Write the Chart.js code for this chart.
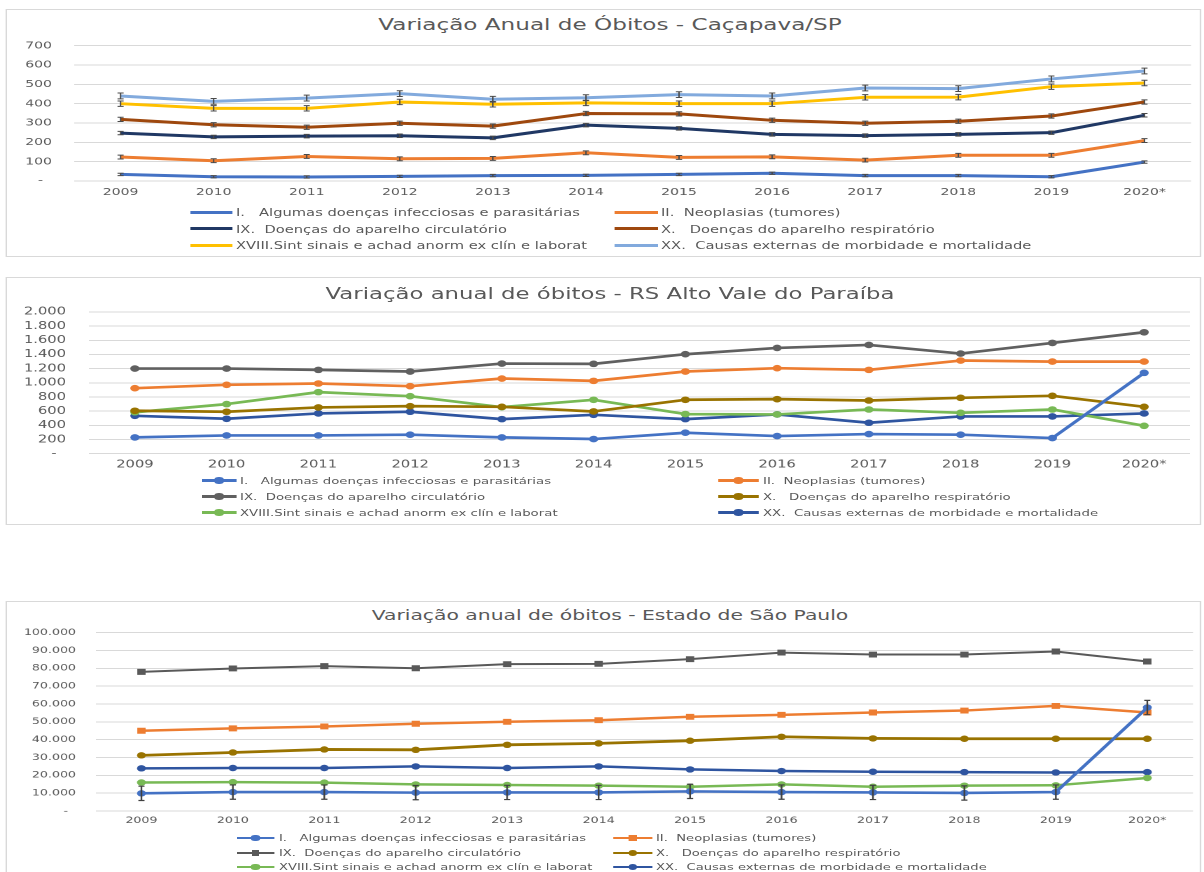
<!DOCTYPE html>
<html><head><meta charset="utf-8">
<script src="https://cdn.jsdelivr.net/npm/chart.js@4.4.1/dist/chart.umd.min.js"></script>
<style>
html,body{margin:0;padding:0;background:#fff;width:1204px;height:872px;overflow:hidden;}
#stage{position:absolute;left:0;top:0;width:860px;height:872px;transform:scaleX(1.4);transform-origin:0 0;font-family:"DejaVu Sans",sans-serif;color:#595959;}
.box{position:absolute;border:1px solid #d9d9d9;box-sizing:border-box;background:#fff;}
.title{position:absolute;white-space:nowrap;transform:translateX(-50%);line-height:20px;height:20px;}
canvas.c{position:absolute;left:0;}
.lt{position:absolute;white-space:pre;line-height:14px;height:14px;}
.ls{position:absolute;}
</style></head><body><div id="stage"></div>
<script>
// ---------- data ----------
const years = ['2009','2010','2011','2012','2013','2014','2015','2016','2017','2018','2019','2020*'];
const causes = [
  'I.   Algumas doenças infecciosas e parasitárias',
  'II.  Neoplasias (tumores)',
  'IX.  Doenças do aparelho circulatório',
  'X.   Doenças do aparelho respiratório',
  'XVIII.Sint sinais e achad anorm ex clín e laborat',
  'XX.  Causas externas de morbidade e mortalidade'
];
const titles = [
  'Variação Anual de Óbitos - Caçapava/SP',
  'Variação anual de óbitos - RS Alto Vale do Paraíba',
  'Variação anual de óbitos - Estado de São Paulo'
];

// Caçapava/SP
const cacI     = [34, 22, 21, 24, 28, 29, 34, 40, 28, 28, 22, 98];
const cacII    = [124, 105, 127, 115, 117, 146, 122, 125, 108, 133, 133, 209];
const cacIX    = [248, 228, 232, 234, 223, 289, 272, 241, 235, 241, 250, 340];
const cacX     = [319, 291, 278, 299, 284, 349, 347, 314, 299, 309, 336, 409];
const cacXVIII = [400, 376, 376, 409, 397, 404, 400, 400, 433, 434, 488, 507];
const cacXX    = [440, 412, 429, 452, 423, 431, 447, 440, 481, 478, 528, 569];
const cacErr   = [6, 10, 9, 11, 14, 15];

// RS Alto Vale do Paraíba
const rsI     = [230, 258, 258, 268, 230, 207, 296, 249, 277, 268, 221, 1141];
const rsII    = [925, 972, 991, 953, 1061, 1028, 1160, 1207, 1183, 1315, 1300, 1300];
const rsIX    = [1202, 1202, 1183, 1160, 1272, 1268, 1404, 1493, 1535, 1413, 1563, 1714];
const rsX     = [606, 592, 653, 671, 662, 596, 761, 770, 751, 789, 817, 662];
const rsXVIII = [585, 700, 869, 812, 657, 761, 559, 554, 624, 577, 624, 394];
const rsXX    = [535, 493, 568, 592, 488, 549, 488, 554, 437, 526, 526, 568];

// Estado de São Paulo
const spI     = [9900, 10600, 10600, 10300, 10400, 10400, 11000, 10600, 10400, 10100, 10600, 58000];
const spII    = [45000, 46300, 47400, 48900, 50000, 50900, 52800, 53900, 55200, 56300, 58900, 55200];
const spIX    = [78000, 79900, 81200, 80000, 82300, 82500, 85100, 88800, 87700, 87700, 89400, 83800];
const spX     = [31200, 32800, 34500, 34300, 37100, 37900, 39400, 41600, 40700, 40500, 40500, 40500];
const spXVIII = [16000, 16200, 15900, 14900, 14600, 14200, 13600, 14900, 13600, 14200, 14400, 18500];
const spXX    = [23900, 24100, 24100, 25000, 24100, 25000, 23300, 22400, 22000, 21800, 21600, 21800];
const spErr   = [4000, 0, 0, 0, 0, 0];

// ---------- presentation ----------
const S = 1.4; // horizontal stretch of the reference picture
const FONT = '"DejaVu Sans", sans-serif';
Chart.defaults.font.family = FONT;
Chart.defaults.color = '#595959';

const fmt = v => v === 0 ? '-  ' : String(v).replace(/\B(?=(\d{3})+(?!\d))/g, '.');

const errPlugin = {
  id: 'errbars',
  afterDatasetsDraw(chart, args, opts) {
    const {ctx, scales: {x, y}} = chart;
    ctx.save();
    ctx.strokeStyle = opts.color || '#505050';
    ctx.lineWidth = opts.width || 1;
    const cap = opts.cap || 2.2;
    chart.data.datasets.forEach((ds) => {
      const e = ds.errorBar;
      if (!e) return;
      ds.data.forEach((v, j) => {
        const px = x.getPixelForValue(j);
        const t = y.getPixelForValue(v + e), b = y.getPixelForValue(v - e);
        ctx.beginPath();
        ctx.moveTo(px, t); ctx.lineTo(px, b);
        ctx.moveTo(px - cap, t); ctx.lineTo(px + cap, t);
        ctx.moveTo(px - cap, b); ctx.lineTo(px + cap, b);
        ctx.stroke();
      });
    });
    ctx.restore();
  }
};

const layouts = [
  {box:[6,9,1201,257], titleY:25.3, titleSize:16.5, plot:[74,45.7,1191,181], yLabRight:52, xLabY:192.3, tick:10,
   yMax:700, yStep:100, err:{color:'#4a4a4a', width:1, cap:2.2},
   leg:{rows:[212,228.7,245], cols:[[190,233,236],[615,658,661]], size:10.5}},
  {box:[6,276.7,1201,525], titleY:293.8, titleSize:16.3, plot:[89,311.7,1190,453.7], yLabRight:66, xLabY:465, tick:10.5,
   yMax:2000, yStep:200,
   leg:{rows:[480.7,496.7,512.7], cols:[[201,237,240],[718,759,763]], size:9.5}},
  {box:[6,600.7,1201,890], titleY:614.7, titleSize:14.5, plot:[95.7,632.3,1193,811], yLabRight:76, xLabY:820.7, tick:9,
   yMax:100000, yStep:10000, err:{color:'#404040', width:1.2, cap:2.2},
   leg:{rows:[838,853,867], cols:[[236,275,279],[613,653,656]], size:9.4}}
];

function mk(label, data, color, extra) {
  return Object.assign({label, data, borderColor: color, backgroundColor: color,
    pointBackgroundColor: color, pointBorderColor: color, borderWidth: 3,
    pointRadius: 0, pointBorderWidth: 0, tension: 0, borderJoinStyle: 'round'}, extra || {});
}

const sets = [
  [
    mk(causes[0], cacI, '#4472C4', {errorBar: cacErr[0]}),
    mk(causes[1], cacII, '#ED7D31', {errorBar: cacErr[1]}),
    mk(causes[2], cacIX, '#203864', {errorBar: cacErr[2]}),
    mk(causes[3], cacX, '#9E480E', {errorBar: cacErr[3]}),
    mk(causes[4], cacXVIII, '#FFC000', {errorBar: cacErr[4]}),
    mk(causes[5], cacXX, '#82AADD', {errorBar: cacErr[5]})
  ],
  [
    mk(causes[0], rsI, '#4472C4', {borderWidth: 2.7, pointRadius: 3.3}),
    mk(causes[1], rsII, '#ED7D31', {borderWidth: 2.7, pointRadius: 3.3}),
    mk(causes[2], rsIX, '#606060', {borderWidth: 2.7, pointRadius: 3.3}),
    mk(causes[3], rsX, '#997300', {borderWidth: 2.7, pointRadius: 3.3}),
    mk(causes[4], rsXVIII, '#78B955', {borderWidth: 2.7, pointRadius: 3.3}),
    mk(causes[5], rsXX, '#2F55A0', {borderWidth: 2.7, pointRadius: 3.3})
  ],
  [
    mk(causes[0], spI, '#4472C4', {borderWidth: 2.6, pointRadius: 3.2, errorBar: spErr[0]}),
    mk(causes[1], spII, '#ED7D31', {borderWidth: 2.5, pointRadius: 4.2, pointStyle: 'rect'}),
    mk(causes[2], spIX, '#595959', {borderWidth: 2, pointRadius: 4.2, pointStyle: 'rect'}),
    mk(causes[3], spX, '#997300', {borderWidth: 2.8, pointRadius: 3.2}),
    mk(causes[4], spXVIII, '#78B955', {borderWidth: 2.5, pointRadius: 3.2}),
    mk(causes[5], spXX, '#2F55A0', {borderWidth: 2.5, pointRadius: 3.2})
  ]
];

const stage = document.getElementById('stage');
const W = 860;

layouts.forEach((L, idx) => {
  const [bx0, by0, bx1, by1] = L.box;
  const box = document.createElement('div');
  box.className = 'box';
  box.style.left = (bx0 / S) + 'px';
  box.style.top = by0 + 'px';
  box.style.width = ((bx1 - bx0) / S) + 'px';
  box.style.height = (by1 - by0) + 'px';
  stage.appendChild(box);

  const t = document.createElement('div');
  t.className = 'title';
  t.textContent = titles[idx];
  t.style.left = (610 / S) + 'px';
  t.style.top = (L.titleY - 10) + 'px';
  t.style.fontSize = L.titleSize + 'px';
  stage.appendChild(t);

  const H = Math.min(by1, 872) - by0;
  const cv = document.createElement('canvas');
  cv.className = 'c';
  cv.width = W; cv.height = H;
  cv.style.top = by0 + 'px';
  stage.appendChild(cv);

  const [px0, py0, px1, py1] = L.plot;
  const xAxisH = 20;
  const yW = px0 / S;
  const lh = L.tick * 1.2;

  new Chart(cv.getContext('2d'), {
    type: 'line',
    data: {labels: years, datasets: sets[idx]},
    options: {
      responsive: false, maintainAspectRatio: false, animation: false, devicePixelRatio: 2,
      layout: {padding: {top: py0 - by0, bottom: H - (py1 - by0) - xAxisH, left: 0, right: W - px1 / S}},
      plugins: {legend: {display: false}, title: {display: false}, tooltip: {enabled: false},
        errbars: L.err || {}},
      scales: {
        x: {
          type: 'category', offset: true,
          grid: {display: false, drawTicks: false},
          border: {display: false},
          ticks: {font: {size: L.tick}, color: '#595959', padding: (L.xLabY - py1) - lh / 2,
                  maxRotation: 0, autoSkip: false},
          afterFit(s) { s.height = xAxisH; }
        },
        y: {
          min: 0, max: L.yMax,
          grid: {color: '#d9d9d9', lineWidth: 1, drawTicks: false},
          border: {display: false},
          ticks: {stepSize: L.yStep, callback: v => fmt(v), font: {size: L.tick}, color: '#595959',
                  padding: (px0 - L.yLabRight) / S, autoSkip: false},
          afterFit(s) { s.width = yW; }
        }
      }
    },
    plugins: [errPlugin]
  });

  // legend (two columns, three rows, Excel style)
  sets[idx].forEach((ds, i) => {
    const rowY = L.leg.rows[Math.floor(i / 2)];
    const [l0, l1, tx] = L.leg.cols[i % 2];
    const line = document.createElement('span');
    line.className = 'ls';
    const lw = ds.borderWidth;
    line.style.left = (l0 / S) + 'px';
    line.style.width = ((l1 - l0) / S) + 'px';
    line.style.top = (rowY - lw / 2) + 'px';
    line.style.height = lw + 'px';
    line.style.background = ds.borderColor;
    stage.appendChild(line);
    if (ds.pointRadius > 0) {
      const m = document.createElement('span');
      m.className = 'ls';
      const r = ds.pointRadius;
      const side = ds.pointStyle === 'rect' ? r * Math.SQRT2 : 2 * r;
      const mid = (l0 + l1) / 2 / S;
      m.style.left = (mid - side / 2) + 'px';
      m.style.top = (rowY - side / 2) + 'px';
      m.style.width = side + 'px';
      m.style.height = side + 'px';
      m.style.background = ds.borderColor;
      if (ds.pointStyle !== 'rect') m.style.borderRadius = '50%';
      stage.appendChild(m);
    }
    const txt = document.createElement('span');
    txt.className = 'lt';
    txt.textContent = ds.label;
    txt.style.left = (tx / S) + 'px';
    txt.style.top = (rowY - 7) + 'px';
    txt.style.fontSize = L.leg.size + 'px';
    stage.appendChild(txt);
  });
});
</script>
</body></html>
